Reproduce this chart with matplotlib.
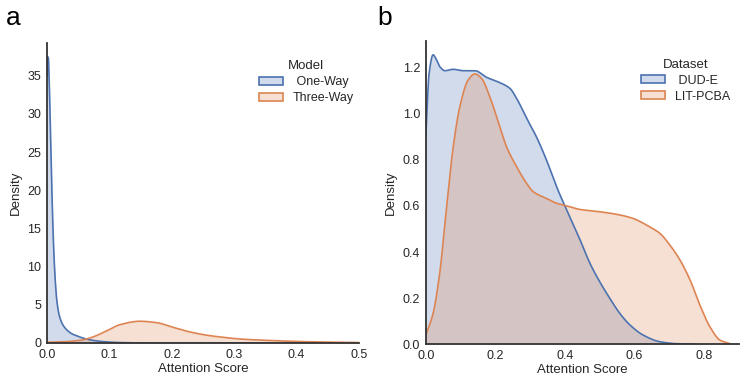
import matplotlib
matplotlib.use("Agg")
import matplotlib.pyplot as plt
from matplotlib.patches import Patch
import numpy as np

plt.rcParams['font.family'] = ['Liberation Sans', 'DejaVu Sans']

BLUE = "#4c72b0"
ORANGE = "#dd8452"

# Panel a: density curves (Model)
a_one_x = [0.0, 0.002, 0.004, 0.006, 0.008, 0.010, 0.013, 0.016, 0.020, 0.026, 0.032, 0.040,
           0.047, 0.055, 0.063, 0.075, 0.085, 0.10, 0.12, 0.15, 0.20, 0.50]
a_one_y = [35.0, 37.6, 33.0, 26.0, 19.5, 14.0, 8.5, 5.4, 3.5, 2.3, 1.7, 1.2,
           0.96, 0.72, 0.52, 0.33, 0.22, 0.12, 0.05, 0.01, 0.0, 0.0]
a_three_x = [0.0, 0.03, 0.058, 0.074, 0.096, 0.117, 0.149, 0.176, 0.202, 0.229, 0.256, 0.283,
             0.31, 0.363, 0.416, 0.47, 0.5]
a_three_y = [0.09, 0.17, 0.42, 0.80, 1.60, 2.40, 2.85, 2.66, 2.05, 1.45, 1.02, 0.74,
             0.52, 0.31, 0.17, 0.09, 0.06]

# Panel b: density curves (Dataset)
b_dude_x = [0.0, 0.0096, 0.021, 0.031, 0.040, 0.055, 0.079, 0.107, 0.141, 0.175, 0.213, 0.242,
            0.261, 0.29, 0.318, 0.347, 0.376, 0.405, 0.443, 0.472, 0.5, 0.529, 0.558, 0.587,
            0.625, 0.673, 0.721, 0.77]
b_dude_y = [0.90, 1.177, 1.257, 1.235, 1.206, 1.188, 1.194, 1.188, 1.188, 1.159, 1.136, 1.111,
            1.068, 0.981, 0.901, 0.80, 0.684, 0.583, 0.455, 0.351, 0.271, 0.199, 0.133, 0.083,
            0.039, 0.010, 0.0015, 0.0]
b_lit_x = [0.0, 0.021, 0.040, 0.060, 0.079, 0.098, 0.122, 0.141, 0.160, 0.184, 0.208, 0.232,
           0.261, 0.29, 0.309, 0.347, 0.376, 0.405, 0.443, 0.5, 0.548, 0.596, 0.635, 0.673,
           0.702, 0.731, 0.76, 0.788, 0.817, 0.846, 0.875]
b_lit_y = [0.039, 0.133, 0.307, 0.597, 0.858, 1.032, 1.148, 1.174, 1.155, 1.075, 0.967, 0.858,
           0.771, 0.698, 0.662, 0.633, 0.612, 0.601, 0.585, 0.575, 0.564, 0.546, 0.517, 0.481,
           0.43, 0.365, 0.278, 0.17, 0.075, 0.017, 0.0015]

a_labels = [" One-Way", "Three-Way"]
b_labels = [" DUD-E", "LIT-PCBA"]


def pchip(x, y, n=600):
    x = np.asarray(x, float); y = np.asarray(y, float)
    h = np.diff(x); d = np.diff(y) / h
    m = np.zeros_like(y)
    for k in range(1, len(x) - 1):
        if d[k - 1] * d[k] > 0:
            w1 = 2 * h[k] + h[k - 1]; w2 = h[k] + 2 * h[k - 1]
            m[k] = (w1 + w2) / (w1 / d[k - 1] + w2 / d[k])
    m[0] = d[0]; m[-1] = d[-1]
    xs = np.linspace(x[0], x[-1], n)
    idx = np.clip(np.searchsorted(x, xs) - 1, 0, len(x) - 2)
    t = (xs - x[idx]) / h[idx]
    h00 = 2 * t**3 - 3 * t**2 + 1; h10 = t**3 - 2 * t**2 + t
    h01 = -2 * t**3 + 3 * t**2; h11 = t**3 - t**2
    ys = h00 * y[idx] + h10 * h[idx] * m[idx] + h01 * y[idx + 1] + h11 * h[idx] * m[idx + 1]
    return xs, np.maximum(ys, 0)


fig = plt.figure(figsize=(7.47, 3.87), dpi=100)
axa = fig.add_axes([0.0629, 0.1137, 0.4177, 0.7753])
axb = fig.add_axes([0.570, 0.111, 0.419, 0.783])


def draw(ax, x, y, col):
    xs, ys = pchip(x, y)
    ax.fill_between(xs, ys, 0, color=col, alpha=0.25, linewidth=0)
    ax.plot(xs, ys, color=col, lw=1.2)


draw(axa, a_one_x, a_one_y, BLUE)
draw(axa, a_three_x, a_three_y, ORANGE)
draw(axb, b_dude_x, b_dude_y, BLUE)
draw(axb, b_lit_x, b_lit_y, ORANGE)

axa.set_xlim(0, 0.5)
axa.set_ylim(0, 39.3)
axa.set_xticks([0.0, 0.1, 0.2, 0.3, 0.4, 0.5])
axa.set_xticklabels(["0.0", "0.1", "0.2", "0.3", "0.4", "0.5"])
axa.set_yticks([0, 5, 10, 15, 20, 25, 30, 35])

axb.set_xlim(0, 0.9)
axb.set_ylim(0, 1.317)
axb.set_xticks([0.0, 0.2, 0.4, 0.6, 0.8])
axb.set_xticklabels(["0.0", "0.2", "0.4", "0.6", "0.8"])
axb.set_yticks([0.0, 0.2, 0.4, 0.6, 0.8, 1.0, 1.2])
axb.set_yticklabels(["0.0", "0.2", "0.4", "0.6", "0.8", "1.0", "1.2"])

for ax in (axa, axb):
    for s in ("top", "right"):
        ax.spines[s].set_visible(False)
    for s in ("left", "bottom"):
        ax.spines[s].set_color("#333333")
        ax.spines[s].set_linewidth(1.3)
    ax.tick_params(length=0, labelsize=9, colors="#262626", pad=4)
    ax.set_xlabel("Attention Score", fontsize=9.5, color="#262626", labelpad=2)
    ax.set_ylabel("Density", fontsize=9.5, color="#262626", labelpad=4)


def legend(ax, title, labels, loc):
    handles = [Patch(facecolor=matplotlib.colors.to_rgba(BLUE, 0.25), edgecolor=BLUE, linewidth=1.2),
               Patch(facecolor=matplotlib.colors.to_rgba(ORANGE, 0.25), edgecolor=ORANGE, linewidth=1.2)]
    lg = ax.legend(handles, labels, title=title, frameon=False, fontsize=9,
                   title_fontsize=9.5, loc="upper right", bbox_to_anchor=loc,
                   handlelength=1.9, handleheight=0.65, labelspacing=0.32, handletextpad=0.8,
                   borderpad=0.3)
    for t in lg.get_texts():
        t.set_color("#262626")
    lg.get_title().set_color("#262626")


legend(axa, "Model", a_labels, (1.015, 0.975))
legend(axb, "Dataset", b_labels, (1.005, 0.975))

fig.text(0.008, 0.985, "a", fontsize=19, va="top", ha="left")
fig.text(0.505, 0.985, "b", fontsize=19, va="top", ha="left")

fig.savefig("out.png", dpi=100)
